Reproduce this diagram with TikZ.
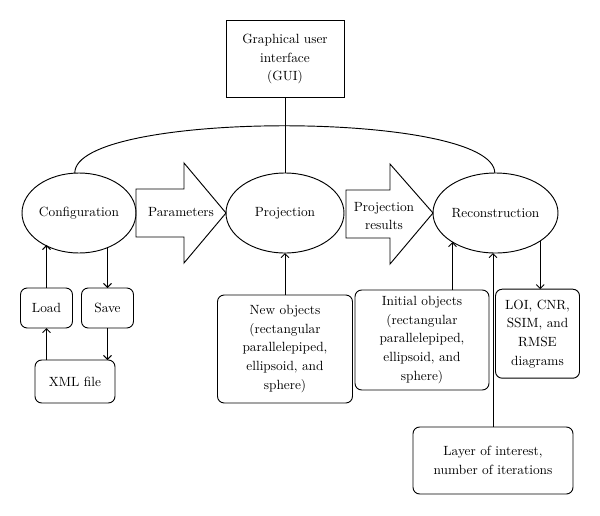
\documentclass[tikz,border=0pt]{standalone}
\usetikzlibrary{arrows.meta, positioning, shapes.geometric}

\tikzset{
  stage/.style={draw, ellipse, inner sep=0pt, outer sep=0pt},
  rbox/.style={draw, rounded corners=5pt, align=center, inner sep=0pt, outer sep=0pt},
  flow/.style={-{Straight Barb[length=3pt, width=6pt]}},
}

\begin{document}
\begin{tikzpicture}[x=0.75pt, y=-0.75pt, line width=0.7pt, font=\fontsize{10}{14}\selectfont]
	\useasboundingbox (0,0) rectangle (600,515);
	
	% GUI box
	\node[draw, align=center, inner sep=0pt, outer sep=0pt, minimum width=88.5pt, minimum height=57.75pt] (gui) at (285,59) {Graphical user\\interface\\(GUI)};
	
	% main stages
	\node[stage, minimum width=85.5pt, minimum height=60pt] (conf) at (79,213) {Configuration};
	\node[stage, minimum width=88.5pt, minimum height=60pt] (proj) at (285,213) {Projection};
	\node[stage, minimum width=93.75pt, minimum height=60pt] (rec) at (495.5,213) {Reconstruction};
	
	% GUI links
	\draw (gui.south) -- (proj.north);
	\draw (conf.96) .. controls (74,110) and (494,110) .. (rec.91);
	
	% Parameters arrow
	\draw (136,189) -- (184,189) -- (184,163) -- (proj.west) -- (184,263) -- (184,237) -- (136,237) -- cycle;
	\node (par) at (181,212) {Parameters};
	
	% Projection results arrow
	\draw (346,190) -- (390,190) -- (390,164) -- (rec.west) -- (390,264) -- (390,238) -- (346,238) -- cycle;
	\node[align=center] (res) at (384,216) {Projection\\results};
	
	% Load / Save / XML file
	\node[rbox, minimum width=39pt, minimum height=30pt] (load) at (46.5,308) {Load};
	\node[rbox, minimum width=39pt, minimum height=30pt] (save) at (107.5,308) {Save};
	\node[rbox, minimum width=60pt, minimum height=32.25pt] (xml) at (75,381.5) {XML file};
	\draw[flow] (load.north) -- (load.north |- conf.223);
	\draw[flow] (save.north |- conf.307) -- (save.north);
	\draw[flow] (load.south |- xml.north) -- (load.south);
	\draw[flow] (save.south) -- (save.south |- xml.north);
	
	% object inputs
	\node[rbox, minimum width=101.25pt, minimum height=81pt] (newobj) at (285,349) {New objects\\(rectangular\\parallelepiped,\\ellipsoid, and\\sphere)};
	\draw[flow] (newobj.north) -- (proj.south);
	
	\node[rbox, minimum width=100.5pt, minimum height=75pt] (init) at (422,340) {Initial objects\\(rectangular\\parallelepiped,\\ellipsoid, and\\sphere)};
	\draw[flow] (rec.214 |- init.north) -- (rec.214);
	
	% outputs
	\node[rbox, minimum width=63pt, minimum height=66.75pt] (loi) at (537.5,333.7) {LOI, CNR,\\SSIM, and\\RMSE\\diagrams};
	\draw[flow] (rec.328) -- (rec.328 |- loi.north);
	
	% reconstruction settings
	\node[rbox, minimum width=120pt, minimum height=50.25pt] (layer) at (493,460.5) {Layer of interest,\\number of iterations};
	\draw[flow] (layer.north) -- (layer.north |- rec.south);
	
\end{tikzpicture}
\end{document}
